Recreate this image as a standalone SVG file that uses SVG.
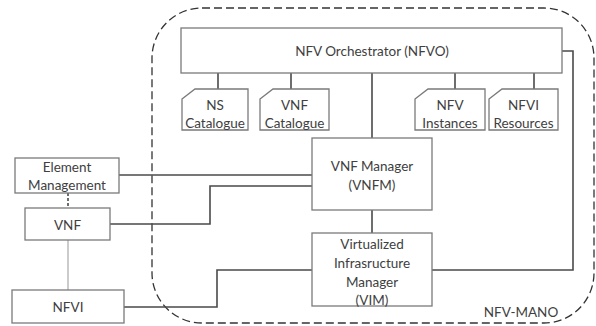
<svg xmlns="http://www.w3.org/2000/svg" width="596" height="326" viewBox="0 0 596 326">
<style>
.box{fill:#fff;stroke:#7a7a7a;stroke-width:1.3}
.ln{fill:none;stroke:#4a4a4a;stroke-width:1.6}
.lt{fill:none;stroke:#b0b0b0;stroke-width:1.3}
.dsh{fill:none;stroke:#333;stroke-width:1.3;stroke-dasharray:8 4}
.t{font-family:Lato,"Liberation Sans",sans-serif;font-size:13.5px;fill:#404040;text-anchor:middle;dominant-baseline:central}
</style>
<rect x="0" y="0" width="596" height="326" fill="#fff"/>
<g id="nfv-mano">
<rect class="dsh" x="152" y="8" width="442" height="315" rx="50" ry="50"/>
<text class="t" x="521" y="312">NFV-MANO</text>
</g>
<g id="connectors">
<path class="ln" d="M218,73V89 M291,73V89 M372,73V138 M455,73V89 M534,73V89"/>
<path class="ln" d="M562,51H573V270H432"/>
<path class="ln" d="M372,210V233"/>
<path class="ln" d="M119,175H312"/>
<path class="ln" d="M110,224H210V186H312"/>
<path class="ln" d="M124,307H217V270H312"/>
<path class="ln" d="M68,193V208" stroke-dasharray="3 2"/>
<path class="lt" d="M68,240V290"/>
</g>
<g id="nfvo">
<rect class="box" x="181" y="28" width="381" height="45"/>
<text class="t" x="372" y="51">NFV Orchestrator (NFVO)</text>
</g>
<g id="ns-catalogue">
<path class="box" d="M182,99L195,89H248V130H182Z"/>
<text class="t" x="215" y="105">NS</text>
<text class="t" x="215" y="123">Catalogue</text>
</g>
<g id="vnf-catalogue">
<path class="box" d="M260,99L273,89H329V130H260Z"/>
<text class="t" x="294.5" y="105">VNF</text>
<text class="t" x="294.5" y="123">Catalogue</text>
</g>
<g id="nfv-instances">
<path class="box" d="M415,99L428,89H485V130H415Z"/>
<text class="t" x="450" y="105">NFV</text>
<text class="t" x="450" y="123">Instances</text>
</g>
<g id="nfvi-resources">
<path class="box" d="M489,99L502,89H558V130H489Z"/>
<text class="t" x="523.5" y="105">NFVI</text>
<text class="t" x="523.5" y="123">Resources</text>
</g>
<g id="vnfm">
<rect class="box" x="312" y="138" width="120" height="72"/>
<text class="t" x="372" y="166">VNF Manager</text>
<text class="t" x="372" y="185">(VNFM)</text>
</g>
<g id="vim">
<rect class="box" x="312" y="233" width="120" height="73"/>
<text class="t" x="372" y="244">Virtualized</text>
<text class="t" x="372" y="263">Infrasructure</text>
<text class="t" x="372" y="282">Manager</text>
<text class="t" x="372" y="300">(VIM)</text>
</g>
<g id="element-management">
<rect class="box" x="15" y="158" width="104" height="35"/>
<text class="t" x="67" y="167">Element</text>
<text class="t" x="67" y="185">Management</text>
</g>
<g id="vnf">
<rect class="box" x="25" y="208" width="85" height="32"/>
<text class="t" x="67.5" y="225">VNF</text>
</g>
<g id="nfvi">
<rect class="box" x="12" y="290" width="112" height="33"/>
<text class="t" x="68" y="307">NFVI</text>
</g>
</svg>
